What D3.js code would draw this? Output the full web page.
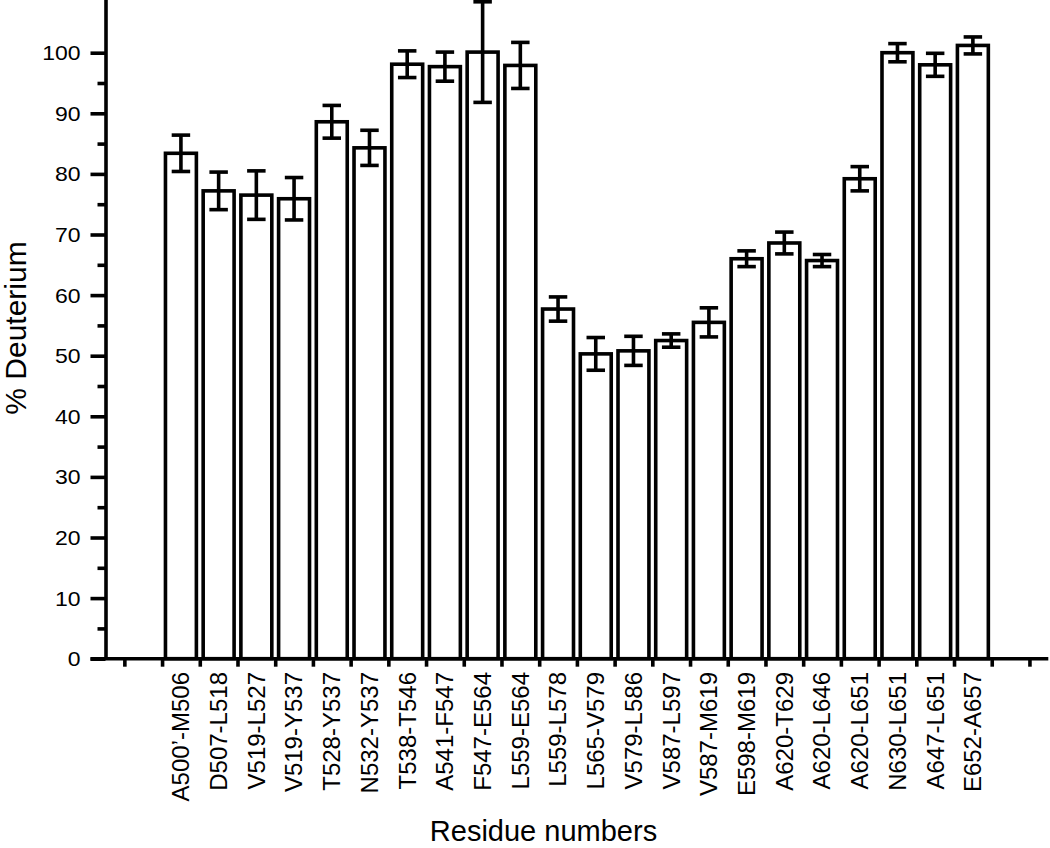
<!DOCTYPE html>
<html>
<head>
<meta charset="utf-8">
<script src="https://cdn.jsdelivr.net/npm/d3@7"></script>
<style>
  html, body { margin: 0; padding: 0; background: #fff; }
  svg { display: block; font-family: "Liberation Sans", Arial, Helvetica, sans-serif; }
</style>
</head>
<body>
<svg id="chart" width="1050" height="848"></svg>
<script>
// ---- data ----
const categories = [
  "A500’-M506", "D507-L518", "V519-L527", "V519-Y537", "T528-Y537", "N532-Y537",
  "T538-T546", "A541-F547", "F547-E564", "L559-E564", "L559-L578", "L565-V579",
  "V579-L586", "V587-L597", "V587-M619", "E598-M619", "A620-T629", "A620-L646",
  "A620-L651", "N630-L651", "A647-L651", "E652-A657"
];
const deuterium = [
  83.4, 77.2, 76.5, 75.9, 88.6, 84.3,
  98.1, 97.7, 100.1, 97.9, 57.7, 50.3,
  50.8, 52.5, 55.5, 66.0, 68.6, 65.7,
  79.2, 100.0, 98.0, 101.2
];
const errors = [
  3.0, 3.1, 4.0, 3.5, 2.7, 2.9,
  2.2, 2.4, 8.3, 3.8, 2.0, 2.7,
  2.4, 1.1, 2.4, 1.3, 1.8, 1.0,
  2.0, 1.5, 1.9, 1.4
];
const yMajorTicks = [0, 10, 20, 30, 40, 50, 60, 70, 80, 90, 100];
const yMinorTicks = [5, 15, 25, 35, 45, 55, 65, 75, 85, 95];
const xTickPositions = d3.range(0.5, 25, 1);
const yTitle = "% Deuterium";
const xTitle = "Residue numbers";

// ---- layout ----
const svg = d3.select("#chart");
const x = d3.scaleLinear().domain([0, 25]).range([105.5, 1048.3]);
const y = d3.scaleLinear().domain([0, 110]).range([658.7, -7.9]);
const SW = 3.6;
const barHalf = 0.41;
const capHalf = 0.245;

const data = categories.map((c, i) => ({ c, v: deuterium[i], e: errors[i], pos: i + 2 }));

// bars
svg.append("g").selectAll("rect").data(data).join("rect")
  .attr("x", d => x(d.pos - barHalf))
  .attr("width", d => x(d.pos + barHalf) - x(d.pos - barHalf))
  .attr("y", d => y(d.v))
  .attr("height", d => y(0) - y(d.v))
  .attr("fill", "#fff")
  .attr("stroke", "#000")
  .attr("stroke-width", SW);

// error bars
const eb = svg.append("g").attr("stroke", "#000").attr("stroke-width", SW);
eb.selectAll("line.v").data(data).join("line").attr("class", "v")
  .attr("x1", d => x(d.pos)).attr("x2", d => x(d.pos))
  .attr("y1", d => y(d.v - d.e)).attr("y2", d => y(d.v + d.e));
eb.selectAll("line.t").data(data).join("line").attr("class", "t")
  .attr("x1", d => x(d.pos - capHalf)).attr("x2", d => x(d.pos + capHalf))
  .attr("y1", d => y(d.v + d.e)).attr("y2", d => y(d.v + d.e));
eb.selectAll("line.b").data(data).join("line").attr("class", "b")
  .attr("x1", d => x(d.pos - capHalf)).attr("x2", d => x(d.pos + capHalf))
  .attr("y1", d => y(d.v - d.e)).attr("y2", d => y(d.v - d.e));

// y axis
const yAxisG = svg.append("g").attr("transform", `translate(${x(0)},0)`);
yAxisG.call(d3.axisLeft(y).tickValues(yMajorTicks).tickSize(15).tickSizeOuter(0).tickFormat(d3.format("d")));
yAxisG.select(".domain").attr("stroke-width", SW).attr("stroke", "#000");
yAxisG.selectAll(".tick line").attr("stroke-width", SW).attr("stroke", "#000");
yAxisG.selectAll(".tick text")
  .attr("x", null).attr("dy", "0.35em")
  .attr("transform", "translate(-25,0) scale(1.15,1)")
  .attr("font-size", 20).attr("fill", "#000")
  .attr("font-family", "'Liberation Sans', Arial, sans-serif");
const yMinorG = svg.append("g").attr("transform", `translate(${x(0)},0)`);
yMinorG.call(d3.axisLeft(y).tickValues(yMinorTicks).tickSize(8).tickSizeOuter(0).tickFormat(""));
yMinorG.select(".domain").remove();
yMinorG.selectAll(".tick line").attr("stroke-width", SW).attr("stroke", "#000");

// x axis
const xAxisG = svg.append("g").attr("transform", `translate(0,${y(0)})`);
xAxisG.call(d3.axisBottom(x).tickValues(xTickPositions).tickSize(8).tickSizeOuter(0).tickFormat(""));
xAxisG.select(".domain").attr("stroke-width", SW).attr("stroke", "#000")
  .attr("d", `M${x(0) - 15},0H${x(25)}`);
xAxisG.selectAll(".tick line").attr("stroke-width", SW).attr("stroke", "#000");

// category labels (rotated)
svg.append("g").selectAll("text").data(data).join("text")
  .attr("transform", d => `translate(${x(d.pos)},672) rotate(-90)`)
  .attr("text-anchor", "end")
  .attr("dy", "0.35em")
  .attr("font-size", 24)
  .attr("fill", "#000")
  .text(d => d.c);

// axis titles
svg.append("text")
  .attr("transform", "translate(26,328) rotate(-90)")
  .attr("text-anchor", "middle")
  .attr("font-size", 30)
  .attr("fill", "#000")
  .text(yTitle);
svg.append("text")
  .attr("x", 543.5).attr("y", 841)
  .attr("text-anchor", "middle")
  .attr("font-size", 29)
  .attr("fill", "#000")
  .text(xTitle);
</script>
</body>
</html>
